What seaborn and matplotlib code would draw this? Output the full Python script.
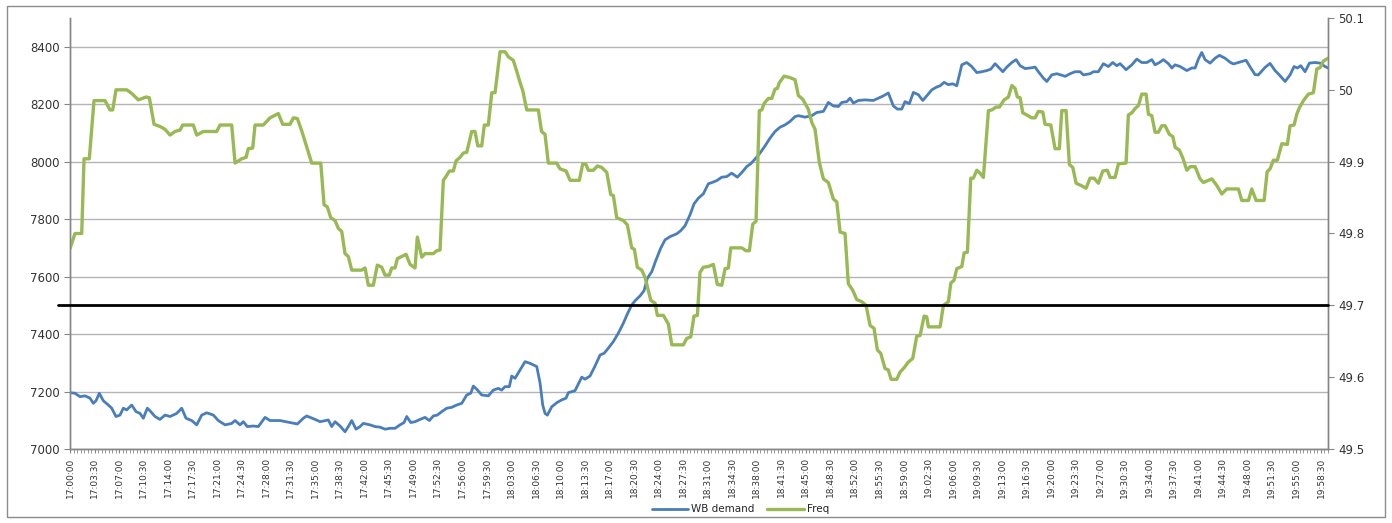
import matplotlib
matplotlib.use("Agg")
import matplotlib.pyplot as plt
import seaborn as sns
import pandas as pd
from matplotlib.patches import Rectangle
from matplotlib.ticker import FuncFormatter, MultipleLocator

# minutes after 17:00:00 (one sample every 30 s)
demand_min = [0.0, 0.71, 1.43, 2.14, 2.85, 3.32, 3.71, 4.18, 4.75, 5.47, 5.95, 6.56, 7.13, 7.61, 8.09, 8.80,
              9.42, 9.99, 10.46, 11.03, 11.52, 12.13, 12.84, 13.56, 14.27, 15.23, 15.94, 16.55, 17.37, 18.08,
              18.79, 19.51, 20.45, 21.16, 22.12, 23.07, 23.55, 24.26, 24.73, 25.30, 26.16, 26.87, 27.83, 28.54,
              29.97, 31.39, 32.44, 33.29, 33.77, 34.96, 35.68, 36.86, 37.34, 37.82, 38.53, 39.24, 39.71, 40.20,
              40.81, 41.38, 41.85, 42.81, 43.52, 44.24, 44.95, 45.66, 46.38, 47.09, 47.66, 48.05, 48.62, 49.23,
              49.95, 50.66, 51.27, 51.84, 52.41, 53.04, 53.76, 54.47, 55.18, 55.90, 56.61, 57.18, 57.55, 58.04,
              58.75, 59.69, 60.41, 61.12, 61.60, 62.07, 62.69, 63.03, 63.50, 64.22, 64.93, 65.64, 66.60, 67.07,
              67.45, 67.78, 68.11, 68.74, 69.45, 70.17, 70.78, 71.11, 72.06, 73.02, 73.49, 74.20, 74.92, 75.63,
              76.20, 76.82, 77.53, 78.24, 78.96, 79.53, 80.15, 80.63, 81.34, 81.91, 82.38, 83.01, 83.62, 84.29,
              84.91, 85.62, 86.58, 87.15, 87.76, 88.47, 89.04, 89.66, 90.37, 91.08, 91.56, 92.28, 93.00, 93.71,
              94.42, 95.22, 95.85, 96.57, 97.14, 97.75, 98.46, 99.18, 99.89, 100.60, 101.32, 102.03, 102.74,
              103.46, 103.93, 104.88, 105.84, 106.55, 107.50, 108.21, 108.92, 109.64, 110.12, 110.84, 111.31,
              111.78, 112.50, 113.45, 114.63, 115.35, 116.06, 116.77, 117.48, 118.06, 118.68, 119.15, 119.77,
              120.34, 121.05, 121.68, 122.25, 122.97, 123.68, 124.15, 124.72, 125.33, 125.96, 126.53, 127.25,
              127.96, 128.67, 129.39, 130.10, 130.82, 131.39, 132.00, 132.47, 133.10, 133.67, 134.38, 135.00,
              135.57, 136.28, 137.00, 137.71, 138.18, 138.89, 139.38, 140.09, 140.81, 141.37, 142.00, 142.70,
              143.41, 144.13, 144.60, 145.55, 146.03, 146.74, 147.45, 148.16, 148.79, 149.36, 149.84, 150.69,
              151.51, 152.22, 152.93, 153.65, 154.36, 154.83, 155.44, 156.02, 156.73, 157.22, 157.69, 158.40,
              159.36, 160.07, 160.54, 161.01, 161.49, 161.97, 162.68, 163.39, 164.01, 164.82, 165.53, 166.01,
              166.96, 167.81, 168.38, 169.09, 169.57, 170.52, 171.24, 171.95, 172.67, 173.38, 174.09, 174.66,
              175.14, 175.62, 176.23, 176.85, 177.66, 178.38, 179.09, 179.5]
demand_mw = [7196, 7194, 7182, 7185, 7177, 7159, 7168, 7194, 7168, 7153, 7142, 7113, 7118, 7142, 7136, 7153,
             7130, 7124, 7107, 7142, 7130, 7113, 7103, 7118, 7113, 7124, 7142, 7107, 7099, 7084,
             7118, 7126, 7118, 7099, 7084, 7089, 7099, 7084, 7095, 7078, 7080, 7078, 7110, 7099,
             7099, 7092, 7087, 7107, 7115, 7103, 7095, 7101, 7078, 7095, 7080, 7060, 7078, 7099,
             7069, 7078, 7089, 7084, 7078, 7076, 7069, 7072, 7072, 7084, 7092, 7113, 7092, 7095,
             7103, 7110, 7099, 7115, 7118, 7130, 7142, 7145, 7153, 7159, 7188, 7194, 7219, 7208,
             7188, 7185, 7205, 7211, 7205, 7217, 7217, 7254, 7246, 7275, 7304, 7298, 7287, 7230,
             7153, 7124, 7118, 7147, 7161, 7171, 7177, 7196, 7203, 7250, 7243, 7254, 7289, 7327,
             7333, 7351, 7374, 7403, 7438, 7470, 7501, 7516, 7533, 7551, 7594, 7617, 7658, 7699,
             7728, 7739, 7749, 7760, 7777, 7815, 7853, 7873, 7888, 7923, 7927, 7934, 7946, 7948,
             7960, 7946, 7962, 7983, 7993, 8009, 8030, 8055, 8082, 8105, 8120, 8128, 8140,
             8157, 8160, 8155, 8160, 8171, 8175, 8206, 8194, 8192, 8206, 8209, 8221,
             8204, 8213, 8215, 8213, 8221, 8229, 8239, 8194, 8183, 8183, 8209, 8202,
             8241, 8233, 8213, 8229, 8250, 8260, 8264, 8276, 8268, 8271, 8264, 8337,
             8345, 8331, 8310, 8313, 8317, 8322, 8341, 8329, 8313, 8329, 8345, 8355,
             8334, 8324, 8326, 8329, 8313, 8291, 8279, 8302, 8306, 8302, 8297, 8306,
             8313, 8313, 8302, 8306, 8313, 8313, 8341, 8331, 8345, 8334, 8341, 8320,
             8337, 8357, 8345, 8345, 8355, 8337, 8345, 8355, 8341, 8326, 8337, 8331,
             8317, 8326, 8326, 8357, 8380, 8355, 8343, 8360, 8370, 8360, 8346, 8340,
             8347, 8353, 8330, 8303, 8302, 8328, 8342, 8317, 8299, 8279, 8302, 8331,
             8326, 8334, 8313, 8343, 8345, 8343, 8331, 8326]

freq_min = [0.0, 0.71, 1.67, 2.00, 2.75, 3.42, 4.99, 5.71, 6.09, 6.56, 8.09, 8.80, 9.75, 10.85, 11.32, 11.99,
            12.84, 13.56, 14.27, 14.98, 15.70, 16.08, 17.59, 18.08, 19.02, 20.93, 21.41, 23.07, 23.55, 24.50,
            25.12, 25.44, 26.07, 26.40, 27.58, 28.54, 29.72, 30.35, 31.39, 31.87, 32.44, 33.06, 34.49, 35.78,
            36.25, 36.72, 37.20, 37.82, 38.29, 38.77, 39.24, 39.71, 40.20, 41.63, 42.10, 42.57, 43.28, 43.85,
            44.48, 44.95, 45.56, 45.91, 46.38, 46.71, 47.33, 47.95, 48.52, 49.23, 49.56, 50.19, 50.66, 51.84,
            52.33, 52.80, 53.27, 53.76, 54.13, 54.70, 55.08, 55.65, 56.12, 56.61, 57.32, 57.79, 58.18, 58.75,
            59.12, 59.69, 60.18, 60.65, 61.36, 62.07, 62.55, 63.26, 63.74, 64.22, 64.60, 65.17, 66.83, 67.28,
            67.78, 68.25, 69.45, 69.92, 70.78, 71.35, 72.68, 73.16, 73.63, 73.96, 74.67, 75.25, 75.87, 76.59,
            77.16, 77.53, 78.01, 78.96, 79.53, 80.15, 80.53, 80.95, 81.58, 82.05, 82.87, 83.48, 83.81, 84.67,
            85.38, 85.87, 87.52, 88.00, 88.57, 89.04, 89.52, 89.90, 90.37, 91.08, 91.80, 92.37, 93.00, 93.47,
            93.94, 94.28, 95.85, 96.47, 96.94, 97.42, 97.89, 98.36, 98.71, 99.04, 99.65, 100.13, 100.60,
            100.93, 101.22, 101.89, 102.74, 103.46, 103.93, 104.55, 105.35, 105.83, 106.31, 106.92, 107.50,
            108.21, 108.92, 109.41, 109.88, 110.59, 111.06, 111.69, 112.26, 112.98, 113.59, 114.16, 114.73,
            115.20, 115.69, 116.30, 116.77, 117.16, 117.97, 118.44, 119.01, 119.62, 120.25, 120.82, 121.30,
            121.87, 122.25, 122.48, 124.15, 124.62, 125.34, 125.68, 126.15, 126.53, 127.25, 127.58, 128.05,
            128.53, 128.90, 129.39, 129.86, 130.33, 131.05, 131.53, 132.14, 132.62, 133.29, 133.90, 134.39,
            134.85, 135.18, 135.57, 135.95, 136.52, 137.23, 137.71, 138.18, 138.81, 139.13, 139.95, 140.56,
            141.17, 141.52, 142.13, 142.60, 143.09, 143.56, 144.23, 144.98, 145.55, 146.12, 146.74, 147.37,
            148.02, 148.41, 149.12, 149.60, 150.69, 151.02, 151.51, 151.98, 152.45, 152.93, 153.55, 153.88,
            154.36, 154.83, 155.30, 155.79, 156.26, 156.87, 157.36, 157.69, 158.30, 158.79, 159.36, 159.83,
            160.54, 161.25, 161.72, 162.92, 163.63, 164.35, 165.06, 166.72, 167.20, 168.15, 168.63, 169.24,
            170.39, 170.82, 171.24, 171.71, 172.28, 172.91, 173.71, 174.09, 174.66, 175.05, 175.42, 176.00,
            176.71, 177.42, 177.91, 178.38, 178.85, 179.5]
freq_hz = [49.779, 49.800, 49.800, 49.904, 49.904, 49.985, 49.985, 49.972, 49.972, 50.000, 50.000, 49.995,
           49.986, 49.990, 49.989, 49.952, 49.949, 49.945, 49.937, 49.942, 49.944, 49.951, 49.951, 49.937,
           49.942, 49.942, 49.951, 49.951, 49.898, 49.904, 49.906, 49.918, 49.919, 49.951, 49.951, 49.961,
           49.967, 49.952, 49.952, 49.961, 49.960, 49.943, 49.898, 49.898, 49.840, 49.837, 49.822, 49.818,
           49.807, 49.803, 49.772, 49.768, 49.749, 49.749, 49.752, 49.728, 49.728, 49.756, 49.753, 49.742,
           49.742, 49.752, 49.752, 49.765, 49.768, 49.771, 49.757, 49.752, 49.795, 49.767, 49.772, 49.772,
           49.776, 49.777, 49.874, 49.881, 49.887, 49.887, 49.901, 49.906, 49.912, 49.913, 49.942, 49.942,
           49.922, 49.922, 49.951, 49.951, 49.996, 49.996, 50.053, 50.053, 50.046, 50.041, 50.026, 50.010,
           49.999, 49.972, 49.972, 49.942, 49.938, 49.898, 49.898, 49.890, 49.887, 49.874, 49.874, 49.897,
           49.896, 49.888, 49.888, 49.894, 49.892, 49.885, 49.854, 49.853, 49.822, 49.818, 49.812, 49.780,
           49.778, 49.753, 49.749, 49.739, 49.707, 49.703, 49.686, 49.686, 49.674, 49.645, 49.645, 49.654,
           49.656, 49.685, 49.686, 49.746, 49.753, 49.754, 49.757, 49.729, 49.728, 49.751, 49.752, 49.780,
           49.780, 49.776, 49.776, 49.813, 49.817, 49.971, 49.972, 49.981, 49.988, 49.988, 50.001, 50.002,
           50.010, 50.019, 50.017, 50.014, 49.992, 49.987, 49.973, 49.955, 49.945, 49.899, 49.876, 49.871,
           49.848, 49.844, 49.802, 49.800, 49.730, 49.721, 49.708, 49.705, 49.700, 49.672, 49.668, 49.638,
           49.633, 49.612, 49.610, 49.597, 49.597, 49.607, 49.613, 49.621, 49.626, 49.657, 49.658, 49.685,
           49.684, 49.670, 49.670, 49.700, 49.705, 49.731, 49.735, 49.751, 49.754, 49.773, 49.774, 49.877,
           49.877, 49.888, 49.884, 49.878, 49.971, 49.972, 49.976, 49.976, 49.986, 49.990, 50.006, 50.002,
           49.990, 49.989, 49.968, 49.965, 49.961, 49.961, 49.970, 49.969, 49.952, 49.951, 49.918, 49.918,
           49.971, 49.971, 49.896, 49.892, 49.870, 49.867, 49.863, 49.877, 49.877, 49.870, 49.887, 49.888,
           49.878, 49.878, 49.897, 49.898, 49.965, 49.968, 49.974, 49.978, 49.994, 49.994, 49.966, 49.964,
           49.941, 49.941, 49.950, 49.950, 49.938, 49.935, 49.920, 49.916, 49.905, 49.888, 49.893, 49.893,
           49.876, 49.871, 49.876, 49.867, 49.855, 49.862, 49.862, 49.846, 49.846, 49.862, 49.846, 49.846,
           49.886, 49.890, 49.902, 49.902, 49.925, 49.924, 49.950, 49.951, 49.966, 49.975, 49.985, 49.994,
           49.996, 50.029, 50.031, 50.040, 50.044]

time_labels = ["17:00:00", "17:03:30", "17:07:00", "17:10:30", "17:14:00", "17:17:30", "17:21:00", "17:24:30",
               "17:28:00", "17:31:30", "17:35:00", "17:38:30", "17:42:00", "17:45:30", "17:49:00", "17:52:30",
               "17:56:00", "17:59:30", "18:03:00", "18:06:30", "18:10:00", "18:13:30", "18:17:00", "18:20:30",
               "18:24:00", "18:27:30", "18:31:00", "18:34:30", "18:38:00", "18:41:30", "18:45:00", "18:48:30",
               "18:52:00", "18:55:30", "18:59:00", "19:02:30", "19:06:00", "19:09:30", "19:13:00", "19:16:30",
               "19:20:00", "19:23:30", "19:27:00", "19:30:30", "19:34:00", "19:37:30", "19:41:00", "19:44:30",
               "19:48:00", "19:51:30", "19:55:00", "19:58:30"]
demand_ticks = [7000, 7200, 7400, 7600, 7800, 8000, 8200, 8400]
freq_ticks = [49.5, 49.6, 49.7, 49.8, 49.9, 50.0, 50.1]
freq_limit = 49.7

BLUE = "#4a7ebb"
GREEN = "#98b954"
AXIS_GREY = "#868686"

sns.set_style("white")
plt.rcParams["font.family"] = ["DejaVu Sans"]

fig = plt.figure(figsize=(13.92, 5.23), dpi=100)
ax = fig.add_axes([0.0503, 0.1415, 0.9037, 0.8241])
ax2 = ax.twinx()

df_d = pd.DataFrame({"t": demand_min, "v": demand_mw})
df_f = pd.DataFrame({"t": freq_min, "v": freq_hz})
sns.lineplot(data=df_d, x="t", y="v", ax=ax, color=BLUE, lw=2.0, estimator=None, sort=False,
             label="WB demand")
sns.lineplot(data=df_f, x="t", y="v", ax=ax2, color=GREEN, lw=2.4, estimator=None, sort=False,
             label="Freq")

ax2.axhline(freq_limit, xmin=-0.0095, xmax=1, color="black", lw=2.0, clip_on=False, zorder=5)

ax.set_xlim(0, 179.5)
ax.set_ylim(7000, 8500)
ax2.set_ylim(49.5, 50.1)

ax.set_yticks(demand_ticks)
ax2.set_yticks(freq_ticks)
ax2.yaxis.set_major_formatter(FuncFormatter(lambda v, p: f"{v:g}"))
ax.set_xticks([i * 3.5 for i in range(len(time_labels))])
ax.set_xticklabels(time_labels, rotation=90, fontsize=6.5, color="#333333")
ax.xaxis.set_minor_locator(MultipleLocator(0.5))

ax.grid(axis="y", color="#b4b4b4", lw=1.0)
ax.set_axisbelow(True)
ax.set_xlabel("")
ax.set_ylabel("")
ax2.set_ylabel("")

ax.tick_params(axis="y", labelsize=8.5, labelcolor="#333333", length=4, color=AXIS_GREY, direction="out",
               left=True)
ax2.tick_params(axis="y", labelsize=8.5, labelcolor="#333333", length=4, color=AXIS_GREY, direction="out",
                right=True)
ax.tick_params(axis="x", which="both", length=3, color=AXIS_GREY, direction="out", bottom=True, pad=3)

for a in (ax, ax2):
    a.spines["top"].set_visible(False)
    for s in ("left", "right", "bottom"):
        a.spines[s].set_color(AXIS_GREY)
        a.spines[s].set_linewidth(1.0)

h1, l1 = ax.get_legend_handles_labels()
h2, l2 = ax2.get_legend_handles_labels()
ax.get_legend().remove()
ax2.get_legend().remove()
fig.legend(h1 + h2, l1 + l2, loc="center", bbox_to_anchor=(0.532, 0.026), ncol=2, frameon=False,
           fontsize=7.5, handlelength=3.5, columnspacing=1.2, handletextpad=0.3)

fig.patches.append(Rectangle((0.005, 0.012), 0.99, 0.976, transform=fig.transFigure, fill=False,
                             edgecolor="#8c8c8c", lw=1.0))

fig.savefig("out.png", dpi=100)
